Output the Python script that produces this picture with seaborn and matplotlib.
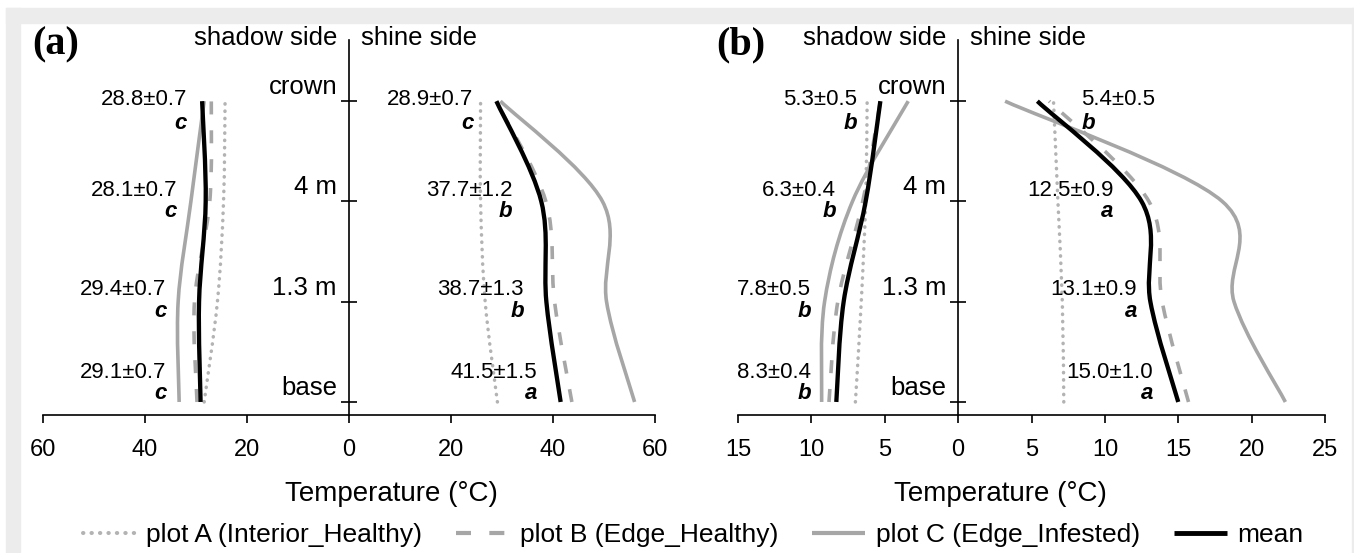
import matplotlib
matplotlib.use("Agg")
import matplotlib.pyplot as plt
import numpy as np
import seaborn as sns
from matplotlib.path import Path
from matplotlib.patches import PathPatch, Rectangle
from matplotlib.lines import Line2D
from matplotlib.transforms import offset_copy

# heights along the stem, listed base -> crown
levels = [0, 1, 2, 3]
height_labels = ["base", "1.3 m", "4 m", "crown"]

# (a) temperature (°C)
a_shadow_A = [28.4, 25.8, 24.6, 24.3]
a_shadow_B = [29.8, 30.3, 27.3, 27.0]
a_shadow_C = [33.3, 33.5, 31.0, 28.4]
a_shadow_mean = [29.1, 29.4, 28.1, 28.8]
a_shadow_sd = [0.7, 0.7, 0.7, 0.7]
a_shadow_grp = ["c", "c", "c", "c"]

a_shine_A = [29.1, 26.7, 25.8, 25.8]
a_shine_B = [43.7, 40.3, 38.6, 28.8]
a_shine_C = [56.0, 50.5, 49.7, 29.7]
a_shine_mean = [41.5, 38.7, 37.7, 28.9]
a_shine_sd = [1.5, 1.3, 1.2, 0.7]
a_shine_grp = ["a", "b", "b", "c"]

# (b) temperature (°C)
b_shadow_A = [7.0, 6.6, 6.3, 6.2]
b_shadow_B = [8.8, 8.2, 6.5, 5.3]
b_shadow_C = [9.3, 9.1, 7.2, 3.4]
b_shadow_mean = [8.3, 7.8, 6.3, 5.3]
b_shadow_sd = [0.4, 0.5, 0.4, 0.5]
b_shadow_grp = ["b", "b", "b", "b"]

b_shine_A = [7.2, 7.1, 6.8, 6.5]
b_shine_B = [15.7, 13.9, 13.0, 6.2]
b_shine_C = [22.3, 18.8, 18.0, 3.2]
b_shine_mean = [15.0, 13.1, 12.5, 5.4]
b_shine_sd = [1.0, 0.9, 0.9, 0.5]
b_shine_grp = ["a", "a", "a", "b"]

a_ticks = [-60, -40, -20, 0, 20, 40, 60]
b_ticks = [-15, -10, -5, 0, 5, 10, 15, 20, 25]

series_names = ["plot A (Interior_Healthy)", "plot B (Edge_Healthy)",
                "plot C (Edge_Infested)", "mean"]

GRAY = "#a6a6a6"
DOT = "#b3b3b3"
styles = {
    "A": dict(edgecolor=DOT, lw=2.5, linestyle=(0, (0.1, 2.0)), capstyle="round"),
    "B": dict(edgecolor=GRAY, lw=2.6, linestyle=(0, (3.6, 4.4)), capstyle="butt"),
    "C": dict(edgecolor=GRAY, lw=2.6, linestyle="-", capstyle="butt"),
    "mean": dict(edgecolor="black", lw=3.1, linestyle="-", capstyle="butt"),
}

sns.set_theme(style="white")
plt.rcParams["font.family"] = ["Liberation Sans", "DejaVu Sans"]
plt.rcParams.update({"text.color": "black", "axes.labelcolor": "black",
                     "xtick.color": "black", "ytick.color": "black"})

PX = 72 / 100  # points per pixel


def smooth_path(xs, ys):
    # smoothed line through the points (cubic bezier, catmull-rom tangents)
    p = np.column_stack([xs, ys]).astype(float)
    ext = np.vstack([p[0], p, p[-1]])
    verts, codes = [p[0]], [Path.MOVETO]
    for i in range(len(p) - 1):
        c1 = ext[i + 1] + (ext[i + 2] - ext[i]) / 6
        c2 = ext[i + 2] - (ext[i + 3] - ext[i + 1]) / 6
        verts += [c1, c2, p[i + 1]]
        codes += [Path.CURVE4] * 3
    return Path(verts, codes)


def draw_side(ax, sign, A, B, C, mean):
    for key, vals in (("A", A), ("B", B), ("C", C), ("mean", mean)):
        xs = [sign * v for v in vals]
        ax.add_patch(PathPatch(smooth_path(xs, levels), fill=False, **styles[key]))


def label_side(ax, fig, sign, mean, sd, grp, xpos, ha):
    num_dy = [24, 6.7, 5, -4.3]
    let_dy = [2.7, -15, -16, -28]
    for i, lv in enumerate(levels):
        h = ha[i]
        t1 = offset_copy(ax.transData, fig, y=num_dy[i] * PX, units="points")
        ax.text(xpos[i], lv, f"{mean[i]:.1f}±{sd[i]:.1f}", transform=t1,
                ha=h, va="baseline", fontsize=16, color="black")
        t2 = offset_copy(ax.transData, fig, y=let_dy[i] * PX, units="points")
        ax.text(xpos[i], lv, grp[i], transform=t2, ha=h, va="baseline", color="black",
                fontsize=16, fontweight="bold", fontstyle="italic")


def setup_axis(ax, fig, ticks, xlabel_x):
    ax.set_xlim(ticks[0], ticks[-1])
    ax.set_ylim(-0.13, 3.61)
    ax.set_facecolor("none")
    for s in ("top", "right"):
        ax.spines[s].set_visible(False)
    ax.spines["left"].set_position(("data", 0))
    for s in ("left", "bottom"):
        ax.spines[s].set_color("black")
        ax.spines[s].set_linewidth(1.2)
    ax.set_xticks(ticks)
    ax.set_xticklabels([str(abs(t)) for t in ticks])
    ax.tick_params(axis="x", direction="out", length=6, width=1.2, color="black",
                   labelsize=17, labelcolor="black", pad=11, bottom=True)
    ax.set_yticks(levels)
    ax.set_yticklabels([])
    ax.tick_params(axis="y", direction="inout", length=12, width=1.2, color="black", left=True)
    ax.grid(False)
    th = offset_copy(ax.transData, fig, x=-12 * PX, y=7 * PX, units="points")
    for lv, lab in zip(levels, height_labels):
        ax.text(0, lv, lab, transform=th, ha="right", va="baseline", fontsize=18.5)
    tr = ax.get_xaxis_transform()
    ax.text(0, 1, "shadow side", transform=offset_copy(tr, fig, x=-12 * PX, y=-5 * PX, units="points"),
            ha="right", va="baseline", fontsize=18.5)
    ax.text(0, 1, "shine side", transform=offset_copy(tr, fig, x=12 * PX, y=-5 * PX, units="points"),
            ha="left", va="baseline", fontsize=18.5)
    ax.set_xlabel("Temperature (°C)", fontsize=20)
    ax.xaxis.set_label_coords(xlabel_x, -0.21)
    ax.xaxis.label.set_va("center")


W, H = 1354, 553
fig = plt.figure(figsize=(W / 100, H / 100), dpi=100)
fig.patch.set_facecolor("white")

# page frame
frame = "#ececec"
fig.patches.append(Rectangle((6 / W, 0), 14 / W, 1 - 8 / H, transform=fig.transFigure,
                             color=frame, zorder=-10))
fig.patches.append(Rectangle((6 / W, 1 - 23 / H), 1 - 6 / W, 15 / H, transform=fig.transFigure,
                             color=frame, zorder=-10))
fig.patches.append(Rectangle((1352 / W, 0), 2 / W, 1 - 8 / H, transform=fig.transFigure,
                             color=frame, zorder=-10))

ax_a = fig.add_axes([43 / W, 1 - 415 / H, 612 / W, 375 / H])
ax_b = fig.add_axes([738 / W, 1 - 415 / H, 587 / W, 375 / H])

setup_axis(ax_a, fig, a_ticks, (391 - 43) / 612)
setup_axis(ax_b, fig, b_ticks, (1000 - 738) / 587)

draw_side(ax_a, -1, a_shadow_A, a_shadow_B, a_shadow_C, a_shadow_mean)
draw_side(ax_a, 1, a_shine_A, a_shine_B, a_shine_C, a_shine_mean)
draw_side(ax_b, -1, b_shadow_A, b_shadow_B, b_shadow_C, b_shadow_mean)
draw_side(ax_b, 1, b_shine_A, b_shine_B, b_shine_C, b_shine_mean)

label_side(ax_a, fig, -1, a_shadow_mean, a_shadow_sd, a_shadow_grp,
           [-35.8, -35.8, -33.7, -31.8], ["right"] * 4)
label_side(ax_a, fig, 1, a_shine_mean, a_shine_sd, a_shine_grp,
           [36.9, 34.3, 32.1, 24.4], ["right"] * 4)
label_side(ax_b, fig, -1, b_shadow_mean, b_shadow_sd, b_shadow_grp,
           [-10.0, -10.0, -8.3, -6.9], ["right"] * 4)
label_side(ax_b, fig, 1, b_shine_mean, b_shine_sd, b_shine_grp,
           [13.3, 12.2, 10.6, 8.4], ["right", "right", "right", "left"])

for x, lab in ((32, "(a)"), (716, "(b)")):
    fig.text(x / W, 1 - 45 / H, lab, family="Liberation Serif", fontweight="bold",
             fontsize=29, va="center", ha="left", color="black")

handles = []
for key in ("A", "B", "C", "mean"):
    st = styles[key]
    handles.append(Line2D([], [], color=st["edgecolor"], lw=st["lw"] + 0.4, linestyle=st["linestyle"],
                          dash_capstyle=st["capstyle"], solid_capstyle="butt"))
fig.legend(handles, series_names, loc="center", bbox_to_anchor=(693 / W, 1 - 535 / H), ncol=4,
           frameon=False, fontsize=19, handlelength=2.0, handletextpad=0.4, columnspacing=1.3,
           labelcolor="black")

fig.savefig("out.png", dpi=100)
